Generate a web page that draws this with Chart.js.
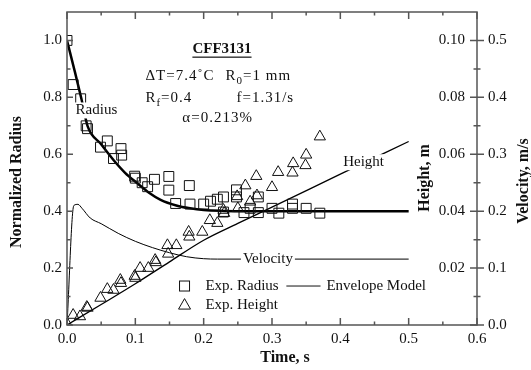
<!DOCTYPE html>
<html>
<head>
<meta charset="utf-8">
<script src="https://cdn.jsdelivr.net/npm/chart.js@4.4.1/dist/chart.umd.min.js"></script>
<style>
  html, body { margin: 0; padding: 0; background: #fff; }
  #wrap { width: 531px; height: 370px; }
</style>
</head>
<body>
<div id="wrap"><canvas id="chart" width="531" height="370"></canvas></div>
<script>
// experimental radius (normalized) vs time
var radiusTime = [0, 0.009, 0.02, 0.028, 0.03, 0.049, 0.059, 0.068, 0.079, 0.08, 0.099, 0.1, 0.11, 0.118, 0.128,
  0.149, 0.149, 0.159, 0.179, 0.18, 0.2, 0.21, 0.22, 0.229, 0.229, 0.248, 0.248, 0.259, 0.268, 0.28, 0.28,
  0.3, 0.31, 0.33, 0.33, 0.35, 0.37];
var radiusExp = [1.0, 0.845, 0.795, 0.70, 0.69, 0.625, 0.647, 0.585, 0.62, 0.597, 0.523, 0.516, 0.5, 0.486, 0.512,
  0.522, 0.474, 0.427, 0.49, 0.425, 0.425, 0.435, 0.442, 0.45, 0.397, 0.475, 0.45, 0.395, 0.41, 0.45, 0.395,
  0.41, 0.393, 0.425, 0.41, 0.41, 0.393];

// experimental height (m) vs time
var heightTime = [0, 0.009, 0.019, 0.029, 0.03, 0.049, 0.059, 0.068, 0.078, 0.079, 0.099, 0.1, 0.107, 0.119,
  0.129, 0.13, 0.147, 0.148, 0.16, 0.178, 0.179, 0.198, 0.209, 0.22, 0.229, 0.23, 0.249, 0.25, 0.261, 0.268,
  0.277, 0.278, 0.3, 0.309, 0.33, 0.331, 0.349, 0.35, 0.37];
var heightExp = [0.0005, 0.0035, 0.003, 0.0063, 0.006, 0.0095, 0.0126, 0.0123, 0.0158, 0.0147, 0.0172, 0.0165,
  0.02, 0.02, 0.0228, 0.022, 0.028, 0.025, 0.028, 0.0327, 0.031, 0.0327, 0.0368, 0.0358, 0.0404, 0.0393,
  0.0452, 0.041, 0.049, 0.0433, 0.0523, 0.0455, 0.0484, 0.0537, 0.0535, 0.0568, 0.0561, 0.0598, 0.0662];

// envelope model curves
var radiusModelTime = [0, 0.011, 0.021, 0.03, 0.05, 0.068, 0.085, 0.103, 0.12, 0.137, 0.16, 0.18, 0.2, 0.23, 0.26, 0.5];
var radiusModel = [1.0, 0.895, 0.796, 0.70, 0.635, 0.58, 0.535, 0.498, 0.465, 0.44, 0.42, 0.41, 0.404, 0.401, 0.4, 0.4];
var heightModelTime = [0, 0.05, 0.1, 0.15, 0.2, 0.25, 0.3, 0.4, 0.5];
var heightModel = [0, 0.0072, 0.0145, 0.0222, 0.0298, 0.0357, 0.0414, 0.053, 0.0645];
var velocityTime = [0, 0.01, 0.016, 0.022, 0.034, 0.05, 0.075, 0.1, 0.125, 0.15, 0.175, 0.2, 0.22, 0.5];
var velocity = [0, 0.21, 0.212, 0.205, 0.188, 0.178, 0.161, 0.147, 0.136, 0.127, 0.12, 0.1165, 0.1158, 0.1158];

// tick labels
var timeTicks = [0, 0.1, 0.2, 0.3, 0.4, 0.5, 0.6];
var radiusTicks = [0, 0.2, 0.4, 0.6, 0.8, 1.0];
var heightTicks = [0.02, 0.04, 0.06, 0.08, 0.10];
var velocityTicks = [0, 0.1, 0.2, 0.3, 0.4, 0.5];

var SERIF = '"Liberation Serif", "Times New Roman", serif';
var INK = "#111";
var AXIS = "#555";

function pts(xs, ys) {
  return xs.map(function (x, i) { return { x: x, y: ys[i] }; });
}
function fixedTicks(values) {
  return function (scale) {
    scale.ticks = values.map(function (v) { return { value: v }; });
  };
}
// fixed box size, no extra label padding so the plot area stays put
function fixSize(w, h) {
  return function (s) {
    if (w !== null) s.width = w;
    if (h !== null) s.height = h;
    s.paddingTop = 0; s.paddingBottom = 0; s.paddingLeft = 0; s.paddingRight = 0;
  };
}

// text with white box behind it (covers the curve it labels)
function boxedText(ctx, text, cx, cy) {
  var w = ctx.measureText(text).width;
  ctx.fillStyle = "#fff";
  ctx.fillRect(cx - w / 2 - 2, cy - 8, w + 4, 16);
  ctx.fillStyle = INK;
  ctx.textAlign = "center";
  ctx.fillText(text, cx, cy);
}

// text with a subscript: "R" + "0" + "=1 mm"
function subText(ctx, main, sub, rest, x, y) {
  ctx.textAlign = "left";
  ctx.font = "15px " + SERIF;
  ctx.fillText(main, x, y);
  x += ctx.measureText(main).width;
  ctx.font = "11px " + SERIF;
  ctx.fillText(sub, x, y + 5);
  x += ctx.measureText(sub).width;
  ctx.font = "15px " + SERIF;
  ctx.fillText(rest, x, y);
}

var framePlugin = {
  id: "frame",
  afterDatasetsDraw: function (chart) {
    var ctx = chart.ctx;
    var a = chart.chartArea;
    var sx = chart.scales.x, sy = chart.scales.y, sh = chart.scales.y2, sv = chart.scales.y3;
    var p, big;
    ctx.save();

    // curve labels
    ctx.font = "15px " + SERIF;
    ctx.textBaseline = "middle";
    boxedText(ctx, "Radius", sx.getPixelForValue(0.043), sy.getPixelForValue(0.754));
    boxedText(ctx, "Height", sx.getPixelForValue(0.434), sh.getPixelForValue(0.0572));
    boxedText(ctx, "Velocity", sx.getPixelForValue(0.294), sv.getPixelForValue(0.1158));

    // frame
    ctx.strokeStyle = AXIS;
    ctx.lineWidth = 1.5;
    ctx.strokeRect(a.left, a.top, a.right - a.left, a.bottom - a.top);

    // tick marks, pointing inward (right axis crosses)
    ctx.beginPath();
    for (var i = 0; i <= 12; i++) {
      p = sx.getPixelForValue(i * 0.05);
      big = i % 2 === 0 ? 7 : 3.5;
      ctx.moveTo(p, a.bottom); ctx.lineTo(p, a.bottom - big);
      ctx.moveTo(p, a.top); ctx.lineTo(p, a.top + big);
    }
    for (i = 0; i <= 10; i++) {
      p = sy.getPixelForValue(i * 0.1);
      big = i % 2 === 0 ? 6 : 3.5;
      ctx.moveTo(a.left, p); ctx.lineTo(a.left + big, p);
    }
    for (i = 0; i <= 10; i++) {
      p = sh.getPixelForValue(i * 0.01);
      big = i % 2 === 0 ? 7 : 3.5;
      ctx.moveTo(a.right - big, p); ctx.lineTo(a.right + big, p);
    }
    ctx.stroke();

    // annotation block
    ctx.fillStyle = INK;
    ctx.textBaseline = "middle";
    ctx.textAlign = "left";
    ctx.font = "bold 15px " + SERIF;
    var tx = sx.getPixelForValue(0.1835), ty = sy.getPixelForValue(0.968);
    ctx.fillText("CFF3131", tx, ty);
    var tw = ctx.measureText("CFF3131").width;
    ctx.fillRect(tx, ty + 7, tw, 1.2);

    ctx.letterSpacing = "1px";
    ctx.font = "15px " + SERIF;
    ctx.fillText("\u0394T=7.4\u02DAC", sx.getPixelForValue(0.1147), sy.getPixelForValue(0.874));
    subText(ctx, "R", "0", "=1 mm", sx.getPixelForValue(0.232), sy.getPixelForValue(0.874));
    subText(ctx, "R", "f", "=0.4", sx.getPixelForValue(0.1147), sy.getPixelForValue(0.796));
    ctx.fillText("f=1.31/s", sx.getPixelForValue(0.248), sy.getPixelForValue(0.796));
    ctx.fillText("\u03B1=0.213%", sx.getPixelForValue(0.1688), sy.getPixelForValue(0.726));
    ctx.letterSpacing = "0px";

    // legend
    ctx.strokeStyle = INK;
    ctx.lineWidth = 1;
    var lx = sx.getPixelForValue(0.172);
    var ly1 = sy.getPixelForValue(0.137), ly2 = sy.getPixelForValue(0.070);
    ctx.strokeRect(lx - 5, ly1 - 5, 10, 10);
    ctx.beginPath();
    ctx.moveTo(lx, ly2 - 6.5); ctx.lineTo(lx + 6, ly2 + 4); ctx.lineTo(lx - 6, ly2 + 4); ctx.closePath();
    ctx.stroke();
    ctx.beginPath();
    ctx.moveTo(sx.getPixelForValue(0.321), ly1); ctx.lineTo(sx.getPixelForValue(0.371), ly1);
    ctx.stroke();
    ctx.fillText("Exp. Radius", sx.getPixelForValue(0.2025), ly1);
    ctx.fillText("Exp. Height", sx.getPixelForValue(0.2025), ly2);
    ctx.fillText("Envelope Model", sx.getPixelForValue(0.3796), ly1);

    // axis titles
    ctx.font = "bold 16px " + SERIF;
    ctx.textAlign = "center";
    ctx.fillText("Time, s", 285, 358);
    var titles = [["Normalized Radius", 17, 182], ["Height, m", 425, 178], ["Velocity, m/s", 524, 181]];
    titles.forEach(function (t) {
      ctx.save();
      ctx.translate(t[1], t[2]);
      ctx.rotate(-Math.PI / 2);
      ctx.fillText(t[0], 0, 0);
      ctx.restore();
    });
    ctx.restore();
  }
};

var tickFont = { family: SERIF, size: 15 };

var ctx = document.getElementById("chart").getContext("2d");
var chart = new Chart(ctx, {
  type: "scatter",
  data: {
    datasets: [
      {
        label: "Exp. Radius",
        data: pts(radiusTime, radiusExp),
        yAxisID: "y",
        pointStyle: "rect",
        pointRadius: 7,
        borderColor: INK,
        borderWidth: 1,
        backgroundColor: "transparent",
      },
      {
        label: "Exp. Height",
        data: pts(heightTime, heightExp),
        yAxisID: "y2",
        pointStyle: "triangle",
        pointRadius: 6.5,
        borderColor: INK,
        borderWidth: 1,
        backgroundColor: "transparent",
      },
      {
        label: "Radius model",
        data: pts(radiusModelTime, radiusModel),
        yAxisID: "y",
        showLine: true,
        pointRadius: 0,
        borderColor: "#000",
        borderWidth: 2.5,
        cubicInterpolationMode: "monotone",
      },
      {
        label: "Height model",
        data: pts(heightModelTime, heightModel),
        yAxisID: "y2",
        showLine: true,
        pointRadius: 0,
        borderColor: "#000",
        borderWidth: 1.3,
        cubicInterpolationMode: "monotone",
      },
      {
        label: "Velocity model",
        data: pts(velocityTime, velocity),
        yAxisID: "y3",
        showLine: true,
        pointRadius: 0,
        borderColor: "#000",
        borderWidth: 1,
        cubicInterpolationMode: "monotone",
      },
    ],
  },
  options: {
    responsive: false,
    animation: false,
    devicePixelRatio: 1,
    layout: { padding: { top: 12, left: 0, right: 0, bottom: 0 } },
    plugins: { legend: { display: false }, tooltip: { enabled: false } },
    scales: {
      x: {
        type: "linear", min: 0, max: 0.6,
        afterBuildTicks: fixedTicks(timeTicks),
        afterFit: fixSize(null, 45),
        grid: { display: false, drawTicks: false },
        border: { display: false },
        ticks: { font: tickFont, color: INK, padding: 5, maxRotation: 0, autoSkip: false,
          callback: function (v) { return v.toFixed(1); } },
      },
      y: {
        type: "linear", position: "left", min: 0, max: 1.1,
        afterBuildTicks: fixedTicks(radiusTicks),
        afterFit: fixSize(67, null),
        grid: { display: false, drawTicks: false },
        border: { display: false },
        ticks: { font: tickFont, color: INK, padding: 5,
          callback: function (v) { return v.toFixed(1); } },
      },
      y2: {
        type: "linear", position: "right", min: 0, max: 0.11,
        afterBuildTicks: fixedTicks(heightTicks),
        afterFit: fixSize(0, null),
        grid: { display: false, drawTicks: false },
        border: { display: false },
        ticks: { font: tickFont, color: INK, mirror: true, padding: -12,
          callback: function (v) { return v.toFixed(2); } },
      },
      y3: {
        type: "linear", position: "right", min: 0, max: 0.55,
        afterBuildTicks: fixedTicks(velocityTicks),
        afterFit: fixSize(54, null),
        grid: { display: false, drawTicks: false },
        border: { display: false },
        ticks: { font: tickFont, color: INK, padding: 11,
          callback: function (v) { return v.toFixed(1); } },
      },
    },
  },
  plugins: [framePlugin],
});
</script>
</body>
</html>
